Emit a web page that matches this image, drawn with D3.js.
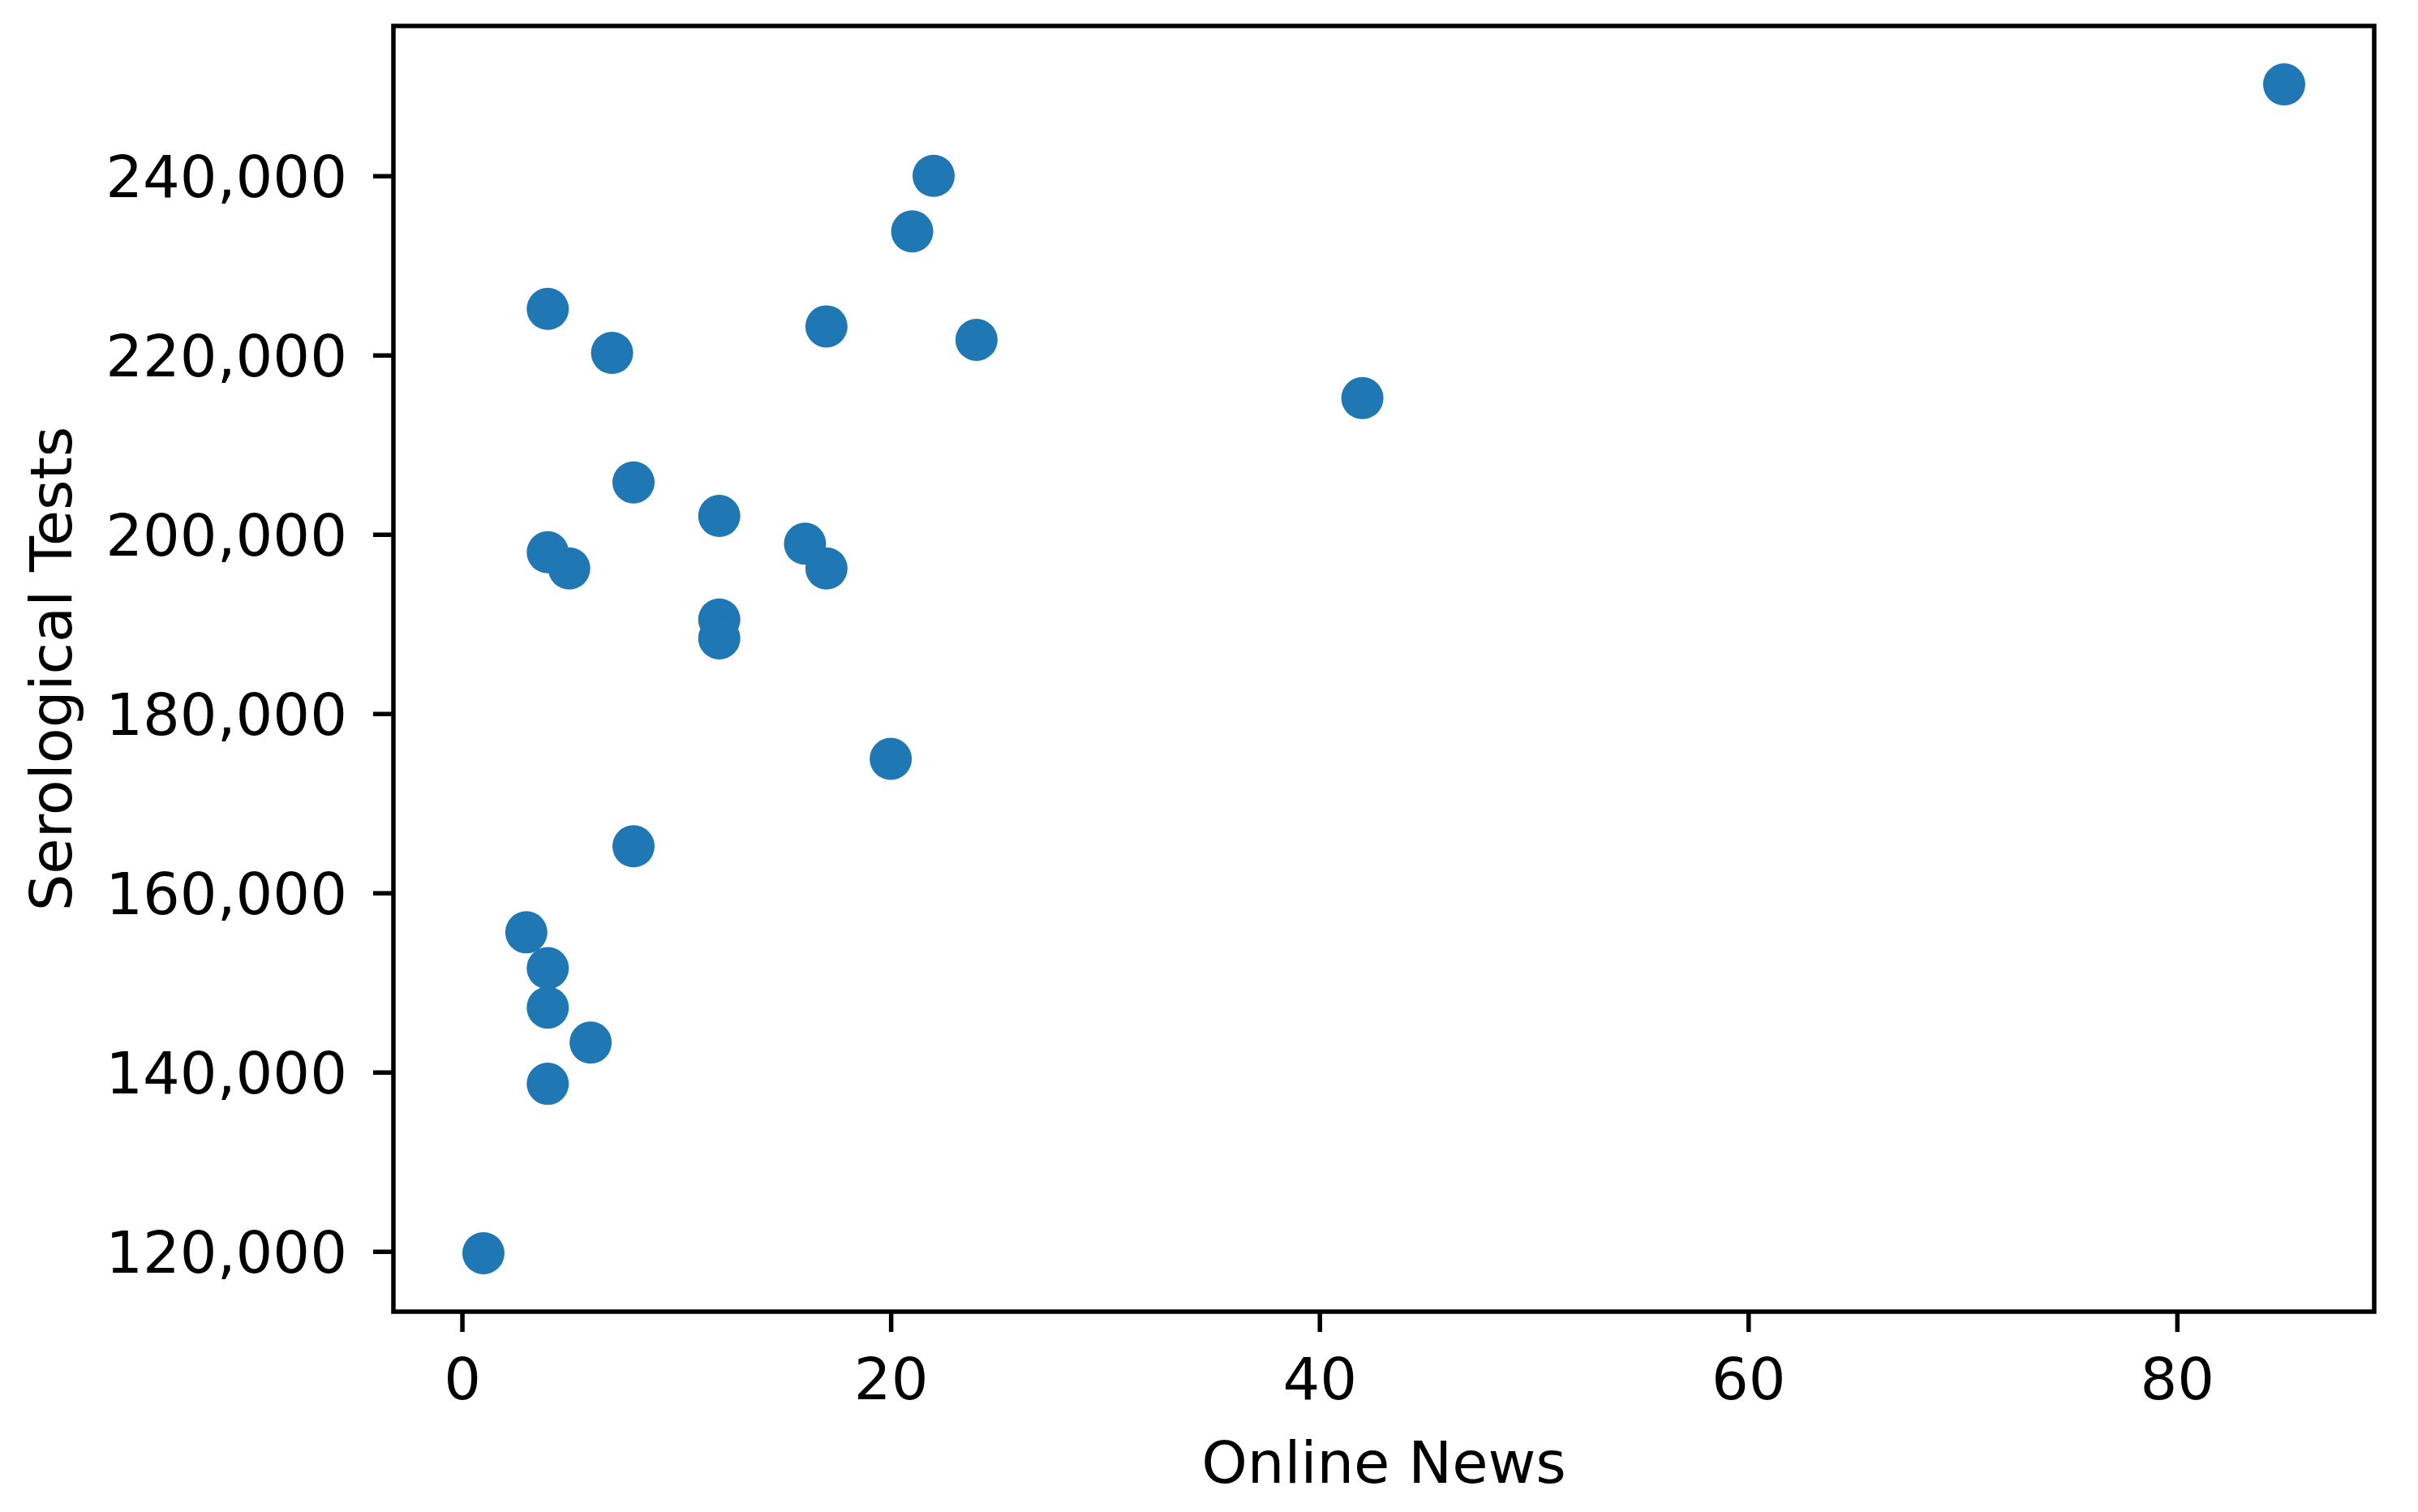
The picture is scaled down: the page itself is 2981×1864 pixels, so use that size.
<!DOCTYPE html>
<html>
<head>
<meta charset="utf-8">
<script src="https://cdn.jsdelivr.net/npm/d3@7"></script>
<style>
  body { margin: 0; background: #fff; }
  text { font-family: "DejaVu Sans", sans-serif; }
</style>
</head>
<body>
<div id="chart"></div>
<script>
// values
var onlineNews = [85, 22, 21, 4, 7, 17, 24, 42, 8, 12, 4, 5, 16, 17, 12, 12, 20, 8, 3, 4, 4, 6, 4, 1];
var serologicalTests = [250200, 240000, 233800, 225150, 220250, 223200, 221700, 215200, 205800, 202050,
                        198000, 196200, 198950, 196200, 190500, 188400, 174950, 165200, 155600, 151600,
                        147200, 143300, 138700, 119800];
var xTicks = [0, 20, 40, 60, 80];
var yTicks = [120000, 140000, 160000, 180000, 200000, 220000, 240000];
var xLabel = "Online News";
var yLabel = "Serological Tests";

var W = 2981, H = 1864;
var margin = {top: 32, right: 54, bottom: 247, left: 485},
    width = W - margin.left - margin.right,
    height = H - margin.top - margin.bottom;
var fontSize = 72;
var lw = 5.5;

var svg = d3.select("#chart").append("svg")
    .attr("width", W)
    .attr("height", H);

var g = svg.append("g")
    .attr("transform", "translate(" + margin.left + "," + margin.top + ")");

// matplotlib-like 5% padding around data
function padded(arr) {
  var e = d3.extent(arr), p = (e[1] - e[0]) * 0.05;
  return [e[0] - p, e[1] + p];
}

var x = d3.scaleLinear().domain(padded(onlineNews)).range([0, width]);
var y = d3.scaleLinear().domain(padded(serologicalTests)).range([height, 0]);

var points = onlineNews.map(function(v, i) { return {x: v, y: serologicalTests[i]}; });

// dots
g.selectAll("circle.dot")
  .data(points)
  .enter().append("circle")
    .attr("class", "dot")
    .attr("cx", function(d) { return x(d.x); })
    .attr("cy", function(d) { return y(d.y); })
    .attr("r", 26)
    .style("fill", "#1f77b4");

// axes
var xAxis = g.append("g")
    .attr("transform", "translate(0," + height + ")")
    .call(d3.axisBottom(x).tickValues(xTicks).tickSize(25).tickPadding(32).tickFormat(d3.format("d")));

var yAxis = g.append("g")
    .call(d3.axisLeft(y).tickValues(yTicks).tickSize(25).tickPadding(32).tickFormat(d3.format(",")));

[xAxis, yAxis].forEach(function(a) {
  a.select(".domain").remove();
  a.selectAll(".tick line").attr("stroke", "#000").attr("stroke-width", lw);
  a.selectAll(".tick text")
    .attr("fill", "#000")
    .style("font-size", fontSize + "px")
    .style("font-family", "'DejaVu Sans', sans-serif");
});
yAxis.selectAll(".tick text").attr("dy", "0.36em");

// frame
g.append("rect")
  .attr("x", 0).attr("y", 0)
  .attr("width", width).attr("height", height)
  .attr("fill", "none")
  .attr("stroke", "#000")
  .attr("stroke-width", lw);

// axis titles
g.append("text")
  .attr("x", width / 2)
  .attr("y", height + 211)
  .attr("text-anchor", "middle")
  .style("font-size", fontSize + "px")
  .text(xLabel);

g.append("text")
  .attr("transform", "translate(" + (88 - margin.left) + "," + (height / 2) + ") rotate(-90)")
  .attr("text-anchor", "middle")
  .style("font-size", fontSize + "px")
  .text(yLabel);
</script>
</body>
</html>
